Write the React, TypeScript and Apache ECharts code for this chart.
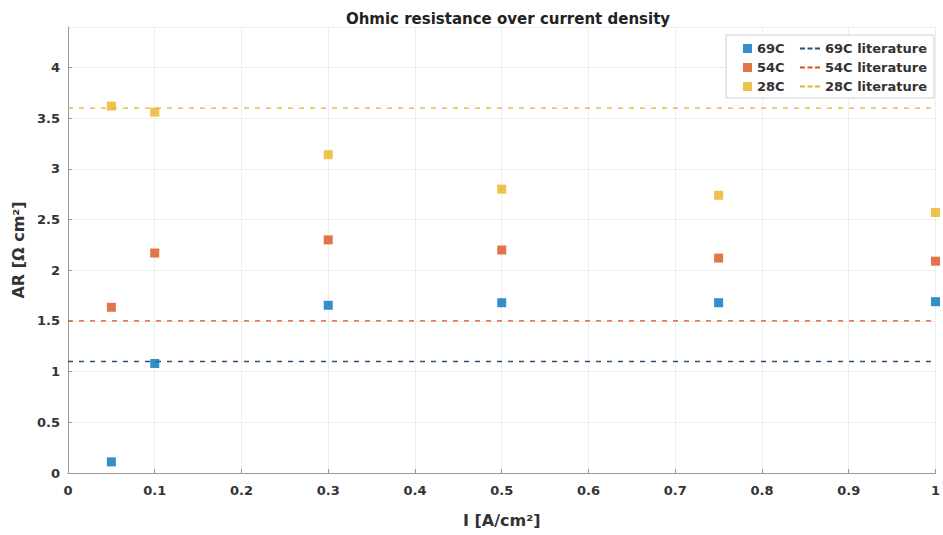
import React, { useEffect, useRef } from "react";
import * as echarts from "echarts";

const xValues = [0.05, 0.1, 0.3, 0.5, 0.75, 1.0];
const ar69 = [0.11, 1.08, 1.655, 1.68, 1.68, 1.69];
const ar54 = [1.635, 2.17, 2.3, 2.2, 2.12, 2.09];
const ar28 = [3.62, 3.56, 3.14, 2.8, 2.74, 2.57];
const lit69 = 1.1;
const lit54 = 1.5;
const lit28 = 3.6;
const seriesNames = ["69C", "54C", "28C"];
const litNames = ["69C literature", "54C literature", "28C literature"];
const colors = ["#0072BD", "#D95319", "#EDB120"];
const litColors = ["#2a5078", "#D95319", "#E3B030"];

export default function App() {
  const ref = useRef<HTMLDivElement>(null);
  useEffect(() => {
    if (!ref.current) return;
    const chart = echarts.init(ref.current, undefined, { renderer: "svg" });
    const font = "DejaVu Sans, Verdana, sans-serif";
    const scatterData = [ar69, ar54, ar28];
    const litVals = [lit69, lit54, lit28];
    const series: any[] = [];
    scatterData.forEach((vals, i) => {
      series.push({
        name: seriesNames[i],
        type: "scatter",
        symbol: "rect",
        symbolSize: 9,
        itemStyle: { color: colors[i] },
        data: xValues.map((x, j) => [x, vals[j]]),
        z: 5,
      });
    });
    litVals.forEach((v, i) => {
      series.push({
        name: litNames[i],
        type: "line",
        symbol: "none",
        lineStyle: { color: litColors[i], type: [5, 6], width: 1.3 },
        itemStyle: { color: litColors[i] },
        data: [[0, v], [1, v]],
        z: 3,
      });
    });
    const dashIcon = "path://M0,0h5v2H0zM7.5,0h5v2H7.5zM15,0h5v2H15z";
    const textStyle = { fontFamily: font, fontSize: 13, fontWeight: "bold" as const, color: "#333" };
    chart.setOption({
      animation: false,
      backgroundColor: "#fff",
      title: {
        text: "Ohmic resistance over current density",
        left: 503,
        textAlign: "center",
        top: 6,
        textStyle: { fontFamily: font, fontSize: 15, fontWeight: "bold", color: "#222" },
      },
      legend: [
        {
          orient: "vertical",
          left: 738,
          top: 37,
          itemWidth: 9,
          itemHeight: 9,
          itemGap: 6,
          icon: "rect",
          data: seriesNames,
          textStyle,
        },
        {
          orient: "vertical",
          left: 795,
          top: 37,
          itemWidth: 20,
          itemHeight: 9,
          itemGap: 6,
          data: litNames.map((n) => ({ name: n, icon: dashIcon })),
          textStyle,
        },
      ],
      graphic: [
        {
          type: "rect",
          shape: { x: 726, y: 35, width: 208, height: 63 },
          style: { fill: "#fff", stroke: "#cfcfcf", lineWidth: 1 },
          z: 1,
        },
      ],
      grid: { left: 68, right: 5, top: 27, bottom: 62 },
      xAxis: {
        type: "value",
        min: 0,
        max: 1,
        interval: 0.1,
        name: "I [A/cm²]",
        nameLocation: "middle",
        nameGap: 39,
        nameTextStyle: { fontFamily: font, fontSize: 16, fontWeight: "bold", color: "#333" },
        axisLine: { show: true, onZero: false, lineStyle: { color: "#999" } },
        axisTick: { show: true, inside: true, length: 4, lineStyle: { color: "#999" } },
        axisLabel: {
          ...textStyle,
          margin: 11,
          formatter: (v: number) => String(Math.round(v * 10) / 10),
        },
        splitLine: { show: true, lineStyle: { color: "#eee" } },
      },
      yAxis: {
        type: "value",
        min: 0,
        max: 4.4,
        interval: 0.5,
        name: "AR [Ω cm²]",
        nameLocation: "middle",
        nameGap: 36,
        nameTextStyle: { fontFamily: font, fontSize: 16, fontWeight: "bold", color: "#333" },
        axisLine: { show: true, onZero: false, lineStyle: { color: "#999" } },
        axisTick: { show: true, inside: true, length: 4, lineStyle: { color: "#999" } },
        axisLabel: {
          ...textStyle,
          margin: 8,
          showMaxLabel: false,
          formatter: (v: number) => (Math.abs(v * 2 - Math.round(v * 2)) < 1e-6 ? String(v) : ""),
        },
        splitLine: { show: true, lineStyle: { color: "#eee" } },
      },
      series,
    });
    return () => chart.dispose();
  }, []);
  return (
    <div
      ref={ref}
      style={{ position: "fixed", left: 0, top: 0, width: 943, height: 535 }}
    />
  );
}
